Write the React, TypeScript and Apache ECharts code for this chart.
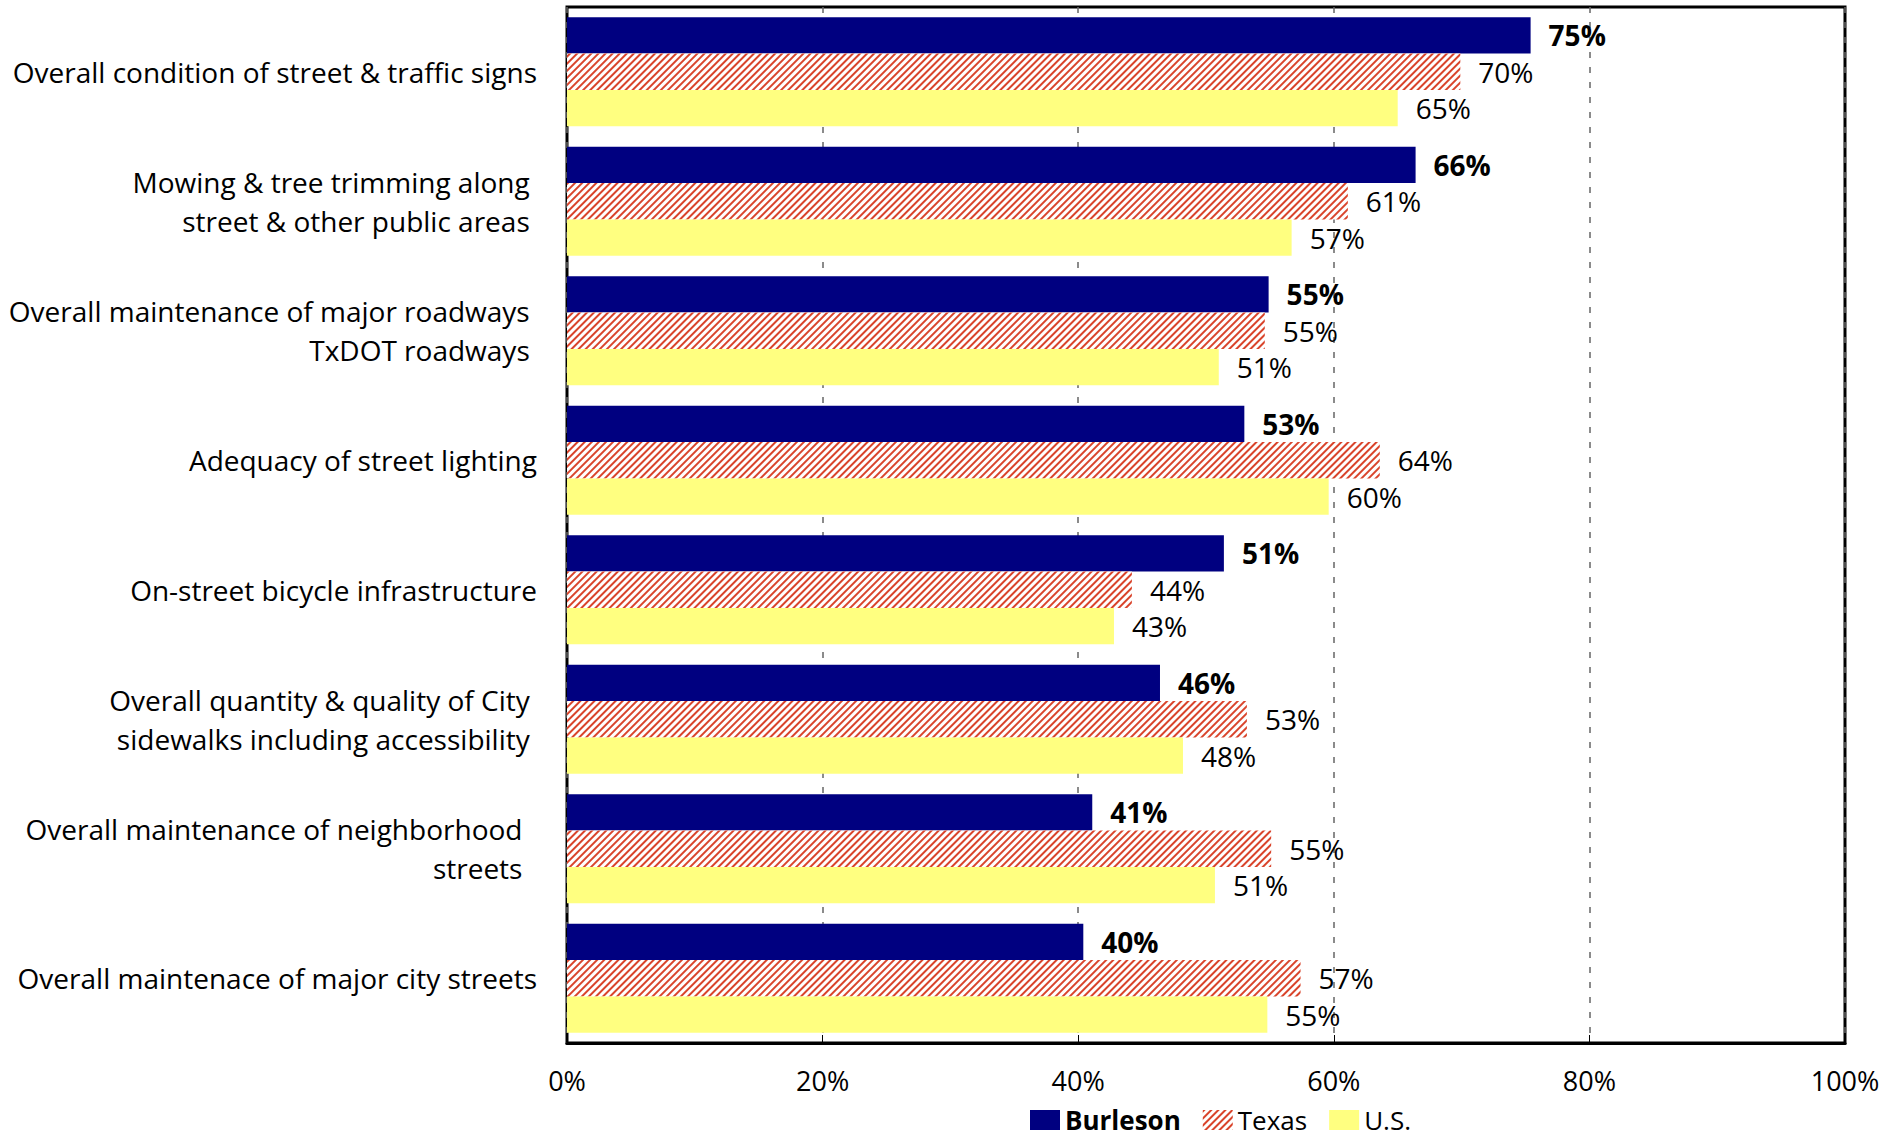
import React, { useEffect, useRef } from "react";
import * as echarts from "echarts";

const categories = [
  "Overall condition of street & traffic signs",
  "Mowing & tree trimming along \nstreet & other public areas ",
  "Overall maintenance of major roadways \nTxDOT roadways ",
  "Adequacy of street lighting",
  "On-street bicycle infrastructure",
  "Overall quantity & quality of City \nsidewalks including accessibility ",
  "Overall maintenance of neighborhood  \nstreets  ",
  "Overall maintenace of major city streets",
];

const burleson = [75.4, 66.4, 54.9, 53.0, 51.4, 46.4, 41.1, 40.4];
const texas = [69.9, 61.1, 54.6, 63.6, 44.2, 53.2, 55.1, 57.4];
const us = [65.0, 56.7, 51.0, 59.6, 42.8, 48.2, 50.7, 54.8];

const xTicks = [0, 20, 40, 60, 80, 100];

const FONT = "Open Sans";
const FS = 28;
const FS_AXIS = 27;
const FS_LEGEND = 26;

export default function App() {
  const ref = useRef<HTMLDivElement>(null);
  useEffect(() => {
    if (!ref.current) return;
    const chart = echarts.init(ref.current, null, { renderer: "svg" });
    const labelFmt = (p: any) => Math.round(p.value) + "%";
    chart.setOption({
      animation: false,
      backgroundColor: "#fff",
      textStyle: { fontFamily: FONT },
      grid: {
        left: 567,
        right: 54,
        top: 7,
        bottom: 101,
        show: true,
        borderColor: "#000",
        borderWidth: 3,
        containLabel: false,
      },
      legend: {
        top: 1107,
        left: 1030,
        icon: "rect",
        itemWidth: 30,
        itemHeight: 20,
        itemGap: 22,
        padding: 0,
        textStyle: {
          fontSize: FS_LEGEND,
          lineHeight: 26,
          color: "#000",
          fontFamily: FONT,
        },
        data: [
          { name: "Burleson", textStyle: { fontWeight: "bold" } },
          { name: "Texas" },
          { name: "U.S." },
        ],
      },
      xAxis: {
        type: "value",
        min: 0,
        max: 100,
        interval: 20,
        axisLine: { show: true, lineStyle: { color: "#000", width: 3 } },
        axisTick: { show: true, inside: true, length: 8, lineStyle: { color: "#000", width: 1 } },
        axisLabel: {
          margin: 24,
          fontSize: FS_AXIS,
          color: "#000",
          fontFamily: FONT,
          formatter: (v: number) => (xTicks.includes(v) ? v + "%" : ""),
        },
        splitLine: {
          show: true,
          lineStyle: { color: "#666", width: 1.5, type: [6, 9] },
        },
      },
      yAxis: {
        type: "category",
        inverse: true,
        data: categories,
        axisLine: { show: false },
        axisTick: { show: false },
        axisLabel: {
          margin: 30,
          fontSize: FS,
          lineHeight: 39,
          color: "#000",
          fontFamily: FONT,
        },
      },
      series: [
        {
          name: "Burleson",
          type: "bar",
          data: burleson,
          barGap: "0%",
          barCategoryGap: "16%",
          itemStyle: { color: "#000080" },
          label: {
            show: true,
            position: "right",
            distance: 18,
            fontSize: FS,
            fontWeight: "bold",
            color: "#000",
            fontFamily: FONT,
            formatter: labelFmt,
          },
        },
        {
          name: "Texas",
          type: "bar",
          data: texas,
          barGap: "0%",
          barCategoryGap: "16%",
          itemStyle: {
            color: "#fff",
            decal: {
              symbol: "rect",
              symbolSize: 1,
              color: "#D9442B",
              dashArrayX: [1, 0],
              dashArrayY: [1.3, 2.8],
              rotation: -Math.PI / 4,
            },
          },
          label: {
            show: true,
            position: "right",
            distance: 18,
            fontSize: FS,
            color: "#000",
            fontFamily: FONT,
            formatter: labelFmt,
          },
        },
        {
          name: "U.S.",
          type: "bar",
          data: us,
          barGap: "0%",
          barCategoryGap: "16%",
          itemStyle: { color: "#FFFF80" },
          label: {
            show: true,
            position: "right",
            distance: 18,
            fontSize: FS,
            color: "#000",
            fontFamily: FONT,
            formatter: labelFmt,
          },
        },
      ],
    });
    return () => chart.dispose();
  }, []);
  return (
    <div
      ref={ref}
      style={{ position: "absolute", left: 0, top: 0, width: 1899, height: 1144 }}
    />
  );
}
